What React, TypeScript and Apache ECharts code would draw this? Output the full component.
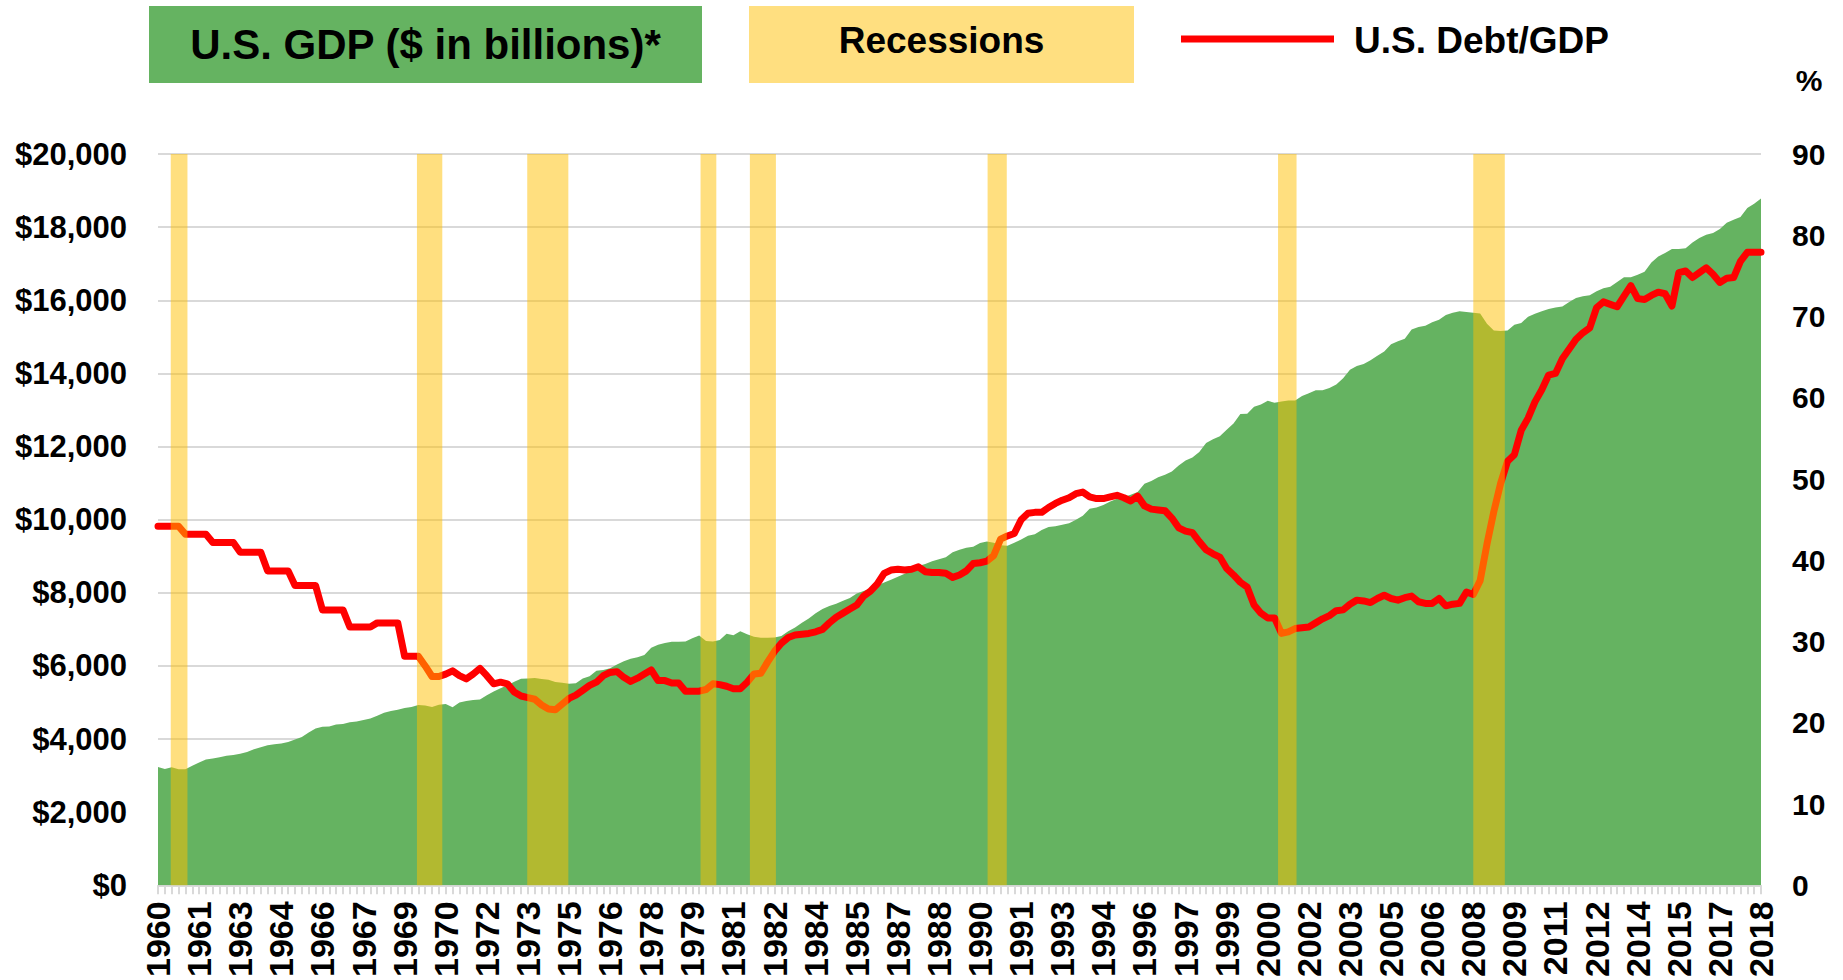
import React, { useEffect, useRef } from "react";
import * as echarts from "echarts";

const FONT = "'Liberation Sans', Arial, Helvetica, sans-serif";

// Quarterly categories 1960 Q1 .. 2018 Q3
const quarters: string[] = [];
for (let y = 1960; y <= 2018; y++) {
  for (let q = 1; q <= 4; q++) {
    if (y === 2018 && q > 3) break;
    quarters.push(`${y} Q${q}`);
  }
}

// U.S. GDP ($ in billions), quarterly
const gdp: number[] = [
  3240, 3180, 3230, 3175, 3175, 3270, 3360, 3440, 3470, 3500,
  3545, 3565, 3600, 3650, 3720, 3780, 3830, 3860, 3880, 3920,
  3990, 4060, 4180, 4290, 4340, 4345, 4400, 4410, 4460, 4480,
  4520, 4560, 4640, 4720, 4770, 4800, 4850, 4880, 4930, 4920,
  4880, 4940, 4960, 4870, 5000, 5040, 5070, 5080, 5200, 5300,
  5390, 5470, 5570, 5650, 5660, 5670, 5640, 5620, 5560, 5540,
  5510, 5530, 5660, 5720, 5870, 5890, 5940, 6040, 6130, 6200,
  6240, 6300, 6500, 6580, 6630, 6660, 6660, 6670, 6760, 6830,
  6680, 6670, 6710, 6880, 6840, 6950, 6870, 6800, 6770, 6770,
  6780, 6820, 6950, 7050, 7180, 7300, 7440, 7560, 7640, 7700,
  7780, 7860, 7980, 8050, 8120, 8200, 8280, 8360, 8440, 8520,
  8620, 8730, 8790, 8860, 8920, 8970, 9110, 9180, 9230, 9260,
  9360, 9400, 9370, 9300, 9290, 9370, 9460, 9560, 9600, 9720,
  9800, 9820, 9860, 9900, 10000, 10110, 10300, 10330, 10400, 10500,
  10570, 10620, 10680, 10760, 10980, 11060, 11160, 11230, 11320, 11480,
  11620, 11700, 11850, 12100, 12200, 12280, 12460, 12630, 12890, 12900,
  13090, 13150, 13250, 13200, 13230, 13260, 13260, 13380, 13460, 13540,
  13540, 13600, 13700, 13870, 14100, 14200, 14260, 14360, 14480, 14600,
  14800, 14880, 14950, 15200, 15270, 15300, 15400, 15470, 15600, 15660,
  15700, 15680, 15660, 15640, 15360, 15170, 15160, 15170, 15330, 15380,
  15550, 15630, 15700, 15760, 15800, 15830, 15950, 16060, 16110, 16140,
  16250, 16330, 16370, 16500, 16630, 16630, 16700, 16780, 17030, 17200,
  17290, 17400, 17400, 17420, 17580, 17700, 17790, 17840, 17950, 18120,
  18200, 18280, 18520, 18640, 18780,
];

// U.S. Debt/GDP (%), quarterly
const debtToGdp: number[] = [
  44.2, 44.2, 44.2, 44.2, 43.2, 43.2, 43.2, 43.2, 42.2, 42.2,
  42.2, 42.2, 41.0, 41.0, 41.0, 41.0, 38.7, 38.7, 38.7, 38.7,
  36.9, 36.9, 36.9, 36.9, 33.9, 33.9, 33.9, 33.9, 31.8, 31.8,
  31.8, 31.8, 32.3, 32.3, 32.3, 32.3, 28.2, 28.2, 28.2, 27.0,
  25.7, 25.7, 26.0, 26.4, 25.8, 25.4, 26.0, 26.7, 25.8, 24.8,
  25.0, 24.8, 23.8, 23.3, 23.1, 22.9, 22.2, 21.7, 21.6, 22.3,
  23.0, 23.4, 24.0, 24.6, 25.0, 25.8, 26.2, 26.3, 25.6, 25.1,
  25.5, 26.0, 26.5, 25.2, 25.2, 24.9, 24.9, 23.9, 23.9, 23.9,
  24.1, 24.8, 24.7, 24.5, 24.2, 24.2, 25.0, 26.0, 26.1, 27.5,
  28.8, 29.8, 30.5, 30.8, 30.9, 31.0, 31.2, 31.5, 32.3, 33.0,
  33.5, 34.0, 34.5, 35.6, 36.2, 37.1, 38.4, 38.8, 38.9, 38.8,
  38.9, 39.2, 38.6, 38.5, 38.5, 38.4, 37.9, 38.2, 38.7, 39.6,
  39.7, 39.9, 40.6, 42.6, 43.0, 43.3, 45.0, 45.8, 45.9, 45.9,
  46.5, 47.0, 47.4, 47.7, 48.2, 48.4, 47.8, 47.6, 47.6, 47.8,
  48.0, 47.7, 47.3, 47.9, 46.7, 46.3, 46.2, 46.1, 45.2, 44.0,
  43.6, 43.4, 42.3, 41.3, 40.8, 40.4, 39.0, 38.2, 37.3, 36.7,
  34.5, 33.5, 32.9, 32.9, 31.0, 31.2, 31.6, 31.7, 31.8, 32.3,
  32.8, 33.2, 33.8, 33.9, 34.6, 35.1, 35.0, 34.8, 35.3, 35.7,
  35.3, 35.1, 35.4, 35.6, 34.9, 34.7, 34.7, 35.3, 34.4, 34.6,
  34.7, 36.1, 35.8, 37.5, 42.0, 46.0, 49.5, 52.2, 53.0, 56.0,
  57.5, 59.5, 61.0, 62.8, 63.0, 64.8, 66.0, 67.2, 68.0, 68.6,
  71.1, 71.8, 71.5, 71.2, 72.5, 73.8, 72.2, 72.1, 72.6, 73.0,
  72.8, 71.3, 75.4, 75.6, 74.8, 75.4, 76.0, 75.2, 74.2, 74.7,
  74.8, 76.8, 77.9, 77.9, 77.9,
];

// Recession bands, as decimal years (start / end)
const recessionStart: number[] = [1960.465, 1969.45, 1973.475, 1979.8, 1981.6, 1990.275, 2000.875, 2008.0];
const recessionEnd: number[] = [1961.075, 1970.375, 1974.975, 1980.375, 1982.55, 1990.975, 2001.55, 2009.15];

const FIRST_YEAR = 1960;
const GDP_MAX = 20000;

const GREEN = "#65B361";
const RECESSION_FILL = "rgba(255,192,0,0.5)";
const LEGEND_YELLOW = "#FFDF80";
const RED = "#FF0000";
const GRID_GREY = "#D9D9D9";

function buildOption(): any {
  return {
    animation: false,
    backgroundColor: "#FFFFFF",
    grid: { left: 158, right: 82, top: 154, bottom: 88, containLabel: false },
    xAxis: {
      type: "category",
      data: quarters,
      boundaryGap: false,
      axisLine: { show: true, lineStyle: { color: GRID_GREY, width: 2 } },
      axisTick: { show: true, interval: 0, length: 9, lineStyle: { color: GRID_GREY, width: 2 } },
      splitLine: { show: false },
      axisLabel: {
        interval: 5,
        rotate: 90,
        margin: 16,
        formatter: (v: string) => v.slice(0, 4),
        fontFamily: FONT,
        fontWeight: "bold",
        fontSize: 34,
        color: "#000",
      },
    },
    yAxis: [
      {
        type: "value",
        min: 0,
        max: GDP_MAX,
        interval: 2000,
        axisLine: { show: false },
        axisTick: { show: false },
        splitLine: { show: true, lineStyle: { color: GRID_GREY, width: 2 } },
        axisLabel: {
          margin: 31,
          formatter: (v: number) => "$" + v.toLocaleString("en-US"),
          fontFamily: FONT,
          fontWeight: "bold",
          fontSize: 31,
          color: "#000",
        },
      },
      {
        type: "value",
        position: "right",
        min: 0,
        max: 90,
        interval: 10,
        axisLine: { show: false },
        axisTick: { show: false },
        splitLine: { show: false },
        axisLabel: {
          margin: 31,
          fontFamily: FONT,
          fontWeight: "bold",
          fontSize: 30,
          color: "#000",
        },
      },
    ],
    series: [
      {
        name: "U.S. GDP ($ in billions)*",
        type: "line",
        data: gdp,
        yAxisIndex: 0,
        symbol: "none",
        lineStyle: { width: 0 },
        itemStyle: { color: GREEN },
        areaStyle: { color: GREEN, opacity: 1 },
        z: 1,
      },
      {
        name: "U.S. Debt/GDP",
        type: "line",
        data: debtToGdp,
        yAxisIndex: 1,
        symbol: "none",
        itemStyle: { color: RED },
        lineStyle: { color: RED, width: 7, cap: "round", join: "round" },
        z: 2,
      },
      {
        name: "Recessions",
        type: "custom",
        xAxisIndex: 0,
        yAxisIndex: 0,
        data: recessionStart.map((_, i) => [i, 0]),
        renderItem: (params: any, api: any) => {
          const i = params.dataIndex;
          const base = api.coord([0, 0]);
          const next = api.coord([1, 0]);
          const top = api.coord([0, GDP_MAX]);
          const step = next[0] - base[0];
          const x1 = base[0] + (recessionStart[i] - FIRST_YEAR) * 4 * step;
          const x2 = base[0] + (recessionEnd[i] - FIRST_YEAR) * 4 * step;
          return {
            type: "rect",
            shape: { x: x1, y: top[1], width: x2 - x1, height: base[1] - top[1] },
            style: { fill: RECESSION_FILL },
          };
        },
        z: 3,
      },
    ],
    graphic: [
      { type: "rect", shape: { x: 149, y: 6, width: 553, height: 77 }, style: { fill: GREEN } },
      {
        type: "text",
        x: 425.5,
        y: 44,
        style: {
          text: "U.S. GDP ($ in billions)*",
          fontFamily: FONT,
          fontWeight: "bold",
          fontSize: 42,
          fill: "#000",
          align: "center",
          verticalAlign: "middle",
        },
      },
      { type: "rect", shape: { x: 749, y: 6, width: 385, height: 77 }, style: { fill: LEGEND_YELLOW } },
      {
        type: "text",
        x: 941.5,
        y: 40,
        style: {
          text: "Recessions",
          fontFamily: FONT,
          fontWeight: "bold",
          fontSize: 37,
          fill: "#000",
          align: "center",
          verticalAlign: "middle",
        },
      },
      { type: "line", shape: { x1: 1181, y1: 39, x2: 1334, y2: 39 }, style: { stroke: RED, lineWidth: 7 } },
      {
        type: "text",
        x: 1354,
        y: 40,
        style: {
          text: "U.S. Debt/GDP",
          fontFamily: FONT,
          fontWeight: "bold",
          fontSize: 37,
          fill: "#000",
          align: "left",
          verticalAlign: "middle",
        },
      },
      {
        type: "text",
        x: 1809,
        y: 80,
        style: {
          text: "%",
          fontFamily: FONT,
          fontWeight: "bold",
          fontSize: 30,
          fill: "#000",
          align: "center",
          verticalAlign: "middle",
        },
      },
    ],
  };
}

export default function App() {
  const ref = useRef<HTMLDivElement>(null);
  useEffect(() => {
    if (!ref.current) return;
    const chart = echarts.init(ref.current, null, { renderer: "svg" });
    chart.setOption(buildOption());
    return () => {
      chart.dispose();
    };
  }, []);
  return (
    <div
      ref={ref}
      style={{ position: "absolute", left: 0, top: 0, width: 1843, height: 980, background: "#fff" }}
    />
  );
}
